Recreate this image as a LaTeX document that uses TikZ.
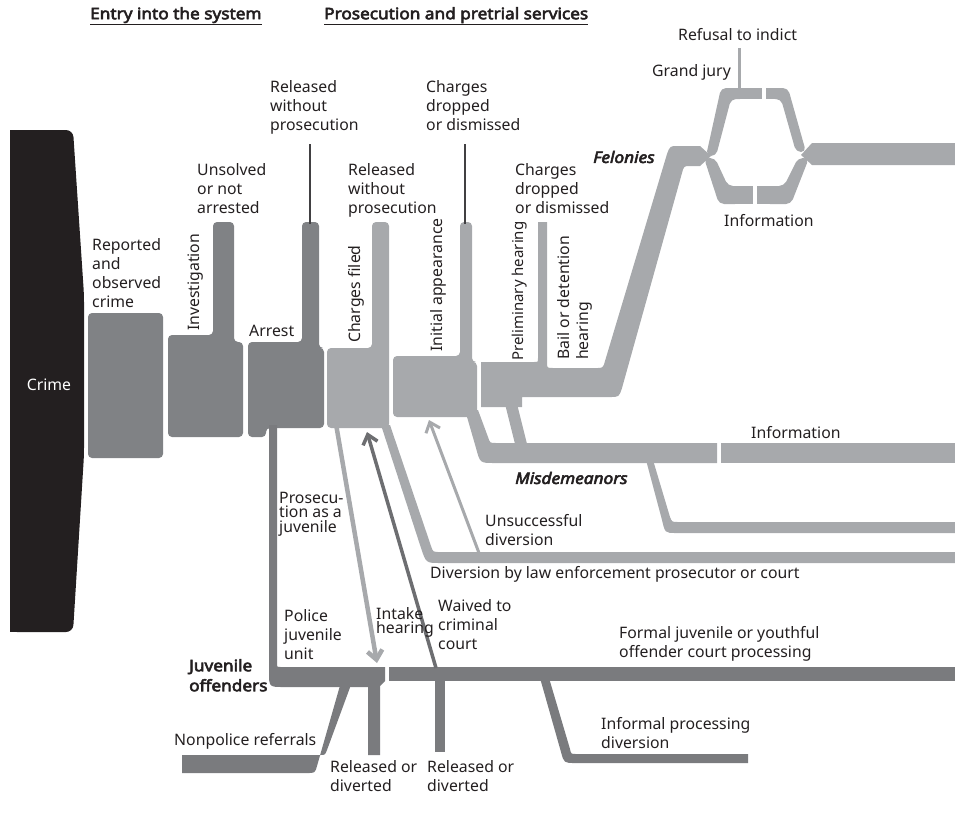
\documentclass[tikz,border=0pt]{standalone}
\usepackage{fontspec}
\setmainfont{Noto Sans}
\newfontfamily\headfont{Noto Sans}[FakeBold=3.5, FakeStretch=1.09, ItalicFeatures={FakeBold=3.5}]
\usetikzlibrary{arrows.meta}

\definecolor{crimeblack}{HTML}{231F20}
\definecolor{entrygray}{HTML}{808285}
\definecolor{juvgray}{HTML}{7A7B7E}
\definecolor{prosgray}{HTML}{A7A9AC}
\definecolor{waivegray}{HTML}{6D6E71}
\definecolor{linegray}{HTML}{414042}
\definecolor{txtgray}{HTML}{231F20}

\begin{document}
\begin{tikzpicture}[
    x = 1pt, y = -1pt,
    lbl/.style = {font=\fontsize{15.8}{19}\selectfont, text=txtgray, inner sep=0pt, align=left, anchor=north west},
    tight/.style = {font=\fontsize{15.8}{14.5}\selectfont},
    hd/.style = {lbl, font=\headfont\fontsize{15.8}{20}\selectfont},
    hdit/.style = {lbl, font=\headfont\fontsize{15.8}{19}\selectfont\itshape, anchor=west},
    rot/.style = {lbl, rotate=90, anchor=west},
    thinline/.style = {draw=linegray, line width=1.6},
    flowarrow/.style = {line width=3.5, -{Straight Barb[length=9pt,width=15pt]}}
]
    \useasboundingbox (0,0) rectangle (955,823);

    % entry into the system
    \fill[crimeblack, rounded corners=7] (10,130) -- (73,130) -- (84,295) -- (84,455) -- (73,632) -- (10,632) -- cycle;
    \fill[crimeblack] (10,130) rectangle (40,632);
    \fill[entrygray, rounded corners=4] (88,313) rectangle (163,458);
    \fill[entrygray, rounded corners=4] (168,437) -- (168,335) -- (213,335) -- (213,222) -- (234,222) -- (234,342) -- (243,342) -- (243,437) -- cycle;
    \fill[entrygray, rounded corners=4] (248,437) -- (248,342) -- (302,342) -- (302,222) -- (319,222) -- (319,348) -- (324,348) -- (324,428) -- (266,428) -- (266,437) -- cycle;
    \draw[thinline] (310,144) -- (310,224);

    % prosecution blocks
    \fill[prosgray, rounded corners=4] (327,428) -- (327,348) -- (372,348) -- (372,222) -- (389,222) -- (389,428) -- cycle;
    \fill[prosgray, rounded corners=4] (393,417) -- (393,356) -- (460,356) -- (460,222) -- (472,222) -- (472,362) -- (477,362) -- (477,417) -- cycle;
    \draw[thinline] (465,144) -- (465,224);

    % felonies
    \fill[prosgray] (481,407) -- (481,362) -- (534,362) .. controls (538,362) .. (538,358) -- (538,222) -- (547,222) -- (547,362) .. controls (547,368) .. (553,368) -- (596,368) .. controls (603,368) .. (605,361) -- (667,154) .. controls (670,146) .. (678,146) -- (700,146) -- (711,156) -- (700,166) -- (690,166) .. controls (684,166) .. (682,173) -- (622,388) .. controls (619,397) .. (610,397) -- (522,397) -- (522,407) -- cycle;
    \fill[prosgray, rounded corners=5] (706,156) -- (721,88) -- (745,88) -- (745,99) -- (731,99) -- (716,156) -- cycle;
    \fill[prosgray] (740,88) rectangle (762,99);
    \fill[prosgray] (766,88) rectangle (775,99);
    \fill[prosgray, rounded corners=5] (770,88) -- (788,88) -- (806,152) -- (796,152) -- (781,99) -- (770,99) -- cycle;
    \fill[prosgray, rounded corners=5] (704,158) -- (719,204) -- (740,204) -- (740,186) -- (728,186) -- (715,158) -- cycle;
    \fill[prosgray] (735,186) rectangle (753,204);
    \fill[prosgray] (757,186) rectangle (770,204);
    \fill[prosgray, rounded corners=5] (765,186) -- (784,186) -- (798,158) -- (809,158) -- (791,204) -- (765,204) -- cycle;
    \fill[prosgray] (801,155) -- (812,143) -- (955,143) -- (955,165) -- (812,165) -- cycle;
    \draw[prosgray, line width=3] (739,48) -- (739,92);

    % misdemeanors
    \fill[prosgray] (465,410) -- (476,448) .. controls (480,463) .. (494,463) -- (717,463) -- (717,443) -- (496,443) .. controls (490,443) .. (488,437) -- (478,410) -- cycle;
    \fill[prosgray] (721,443) rectangle (955,463);
    \fill[prosgray] (504,400) -- (516,448) -- (528,448) -- (516,400) -- cycle;
    \fill[prosgray] (646,460) -- (662,520) .. controls (665,533) .. (676,533) -- (955,533) -- (955,522) -- (678,522) .. controls (672,522) .. (670,517) -- (653,460) -- cycle;

    % diversion
    \fill[prosgray] (381,425) -- (421,548) .. controls (426,563) .. (440,563) -- (955,563) -- (955,552) -- (440,552) .. controls (433,552) .. (431,546) -- (390,425) -- cycle;
    \draw[prosgray, flowarrow, line width=3] (479,553) -- (429,420);

    % juvenile offenders
    \fill[juvgray] (277,425) -- (269,425) -- (269,672) .. controls (269,687) .. (284,687) -- (368,687) -- (368,755) -- (380,755) -- (380,686) -- (385,681) -- (385,667) -- (281,667) .. controls (277,667) .. (277,663) -- cycle;
    \fill[juvgray] (182,755) -- (320,755) .. controls (325,755) .. (327,750) -- (352,682) -- (341,682) -- (317,766) .. controls (315,773) .. (307,773) -- (182,773) -- cycle;
    \fill[juvgray] (389,667) rectangle (955,681);
    \fill[juvgray] (435,678) rectangle (445,752);
    \fill[juvgray] (540,678) -- (561,752) .. controls (564,763) .. (575,763) -- (748,763) -- (748,754) -- (576,754) .. controls (571,754) .. (570,749) -- (549,678) -- cycle;
    \draw[prosgray, flowarrow, line width=4.5] (336,424) -- (377,663);
    \draw[waivegray, flowarrow] (436,668) -- (367,432);

    % headings
    \node[hd] (entry) at (90,7) {\underline{Entry into the system}};
    \node[hd] (prosec) at (324,7) {\underline{Prosecution and pretrial services}};

    % labels
    \node[lbl, text=white, anchor=center] (crime) at (49,385) {Crime};
    \node[lbl] (reported) at (92,238) {Reported\\and\\observed\\crime};
    \node[rot] (invest) at (196,331) {Investigation};
    \node[lbl] (unsolved) at (197,163) {Unsolved\\or not\\arrested};
    \node[lbl] (arrest) at (249,325) {Arrest};
    \node[lbl] (relA) at (270,80) {Released\\without\\prosecution};
    \node[lbl] (relB) at (348,163) {Released\\without\\prosecution};
    \node[rot] (filed) at (356,343) {Charges filed};
    \node[rot] (initial) at (438,352) {Initial appearance};
    \node[lbl] (dropA) at (426,80) {Charges\\dropped\\or dismissed};
    \node[lbl] (dropB) at (515,163) {Charges\\dropped\\or dismissed};
    \node[rot, font=\fontsize{15}{19}\selectfont] (prelim) at (520,361) {Preliminary hearing};
    \node[lbl, rotate=90] (bail) at (557,360) {Bail or detention\\hearing};
    \node[hdit] (felonies) at (593,157) {Felonies};
    \node[lbl, anchor=east] (grandjury) at (731,72) {Grand jury};
    \node[lbl, anchor=west] (refusal) at (678,35) {Refusal to indict};
    \node[lbl, anchor=west] (infoA) at (724,221) {Information};
    \node[lbl, anchor=west] (infoB) at (751,433) {Information};
    \node[hdit] (misd) at (515,478) {Misdemeanors};
    \node[lbl] (unsucc) at (485,514) {Unsuccessful\\diversion};
    \node[lbl, anchor=west] (diversion) at (430,574) {Diversion by law enforcement prosecutor or court};
    \node[lbl, tight] (asjuv) at (279,492) {Prosecu-\\tion as a\\juvenile};
    \node[lbl] (police) at (284,609) {Police\\juvenile\\unit};
    \node[lbl, tight] (intake) at (376,607) {Intake\\hearing};
    \node[lbl] (waived) at (438,599) {Waived to\\criminal\\court};
    \node[hd] (juvoff) at (189,659) {Juvenile\\offenders};
    \node[lbl, anchor=west] (nonpolice) at (174,741) {Nonpolice referrals};
    \node[lbl] (relC) at (330,760) {Released or\\diverted};
    \node[lbl] (relD) at (427,760) {Released or\\diverted};
    \node[lbl] (formal) at (619,626) {Formal juvenile or youthful\\offender court processing};
    \node[lbl] (informal) at (601,717) {Informal processing\\diversion};
\end{tikzpicture}
\end{document}
